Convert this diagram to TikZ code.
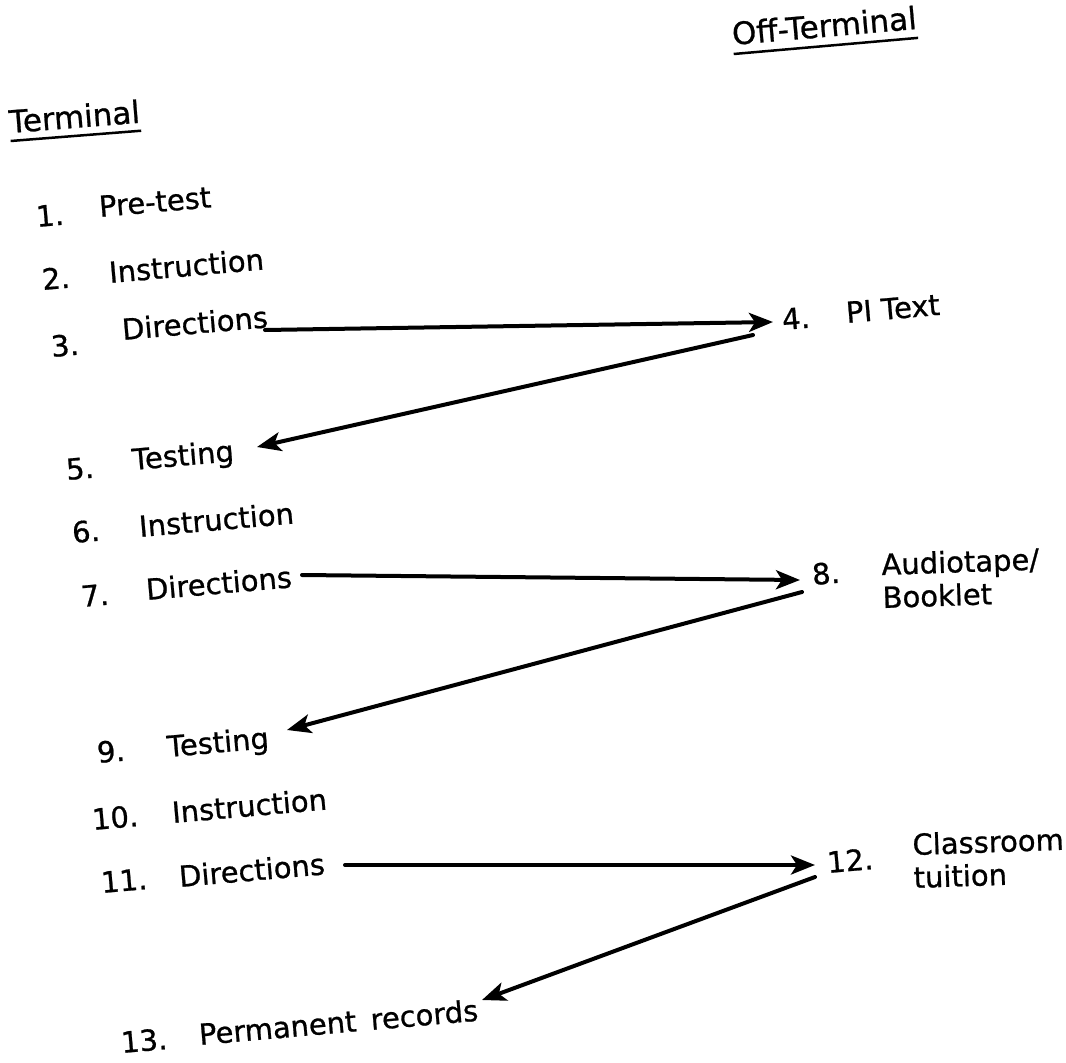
\documentclass[tikz,border=0pt]{standalone}
\usepackage{fontspec}
\setmainfont{DejaVu Sans}[FakeBold=0.8]
\usetikzlibrary{arrows.meta}
\begin{document}
\begin{tikzpicture}[x=1pt,y=-1pt,
  lbl/.style={anchor=base west, inner sep=0pt, outer sep=0pt, rotate=#1,
              font=\fontsize{29}{33}\selectfont},
  lbl/.default=5,
  two/.style={lbl=#1, align=left},
  two/.default=2,
  head/.style={lbl=#1, font=\fontsize{31}{36}\selectfont},
  head/.default=5,
  uline/.style={line width=2.5pt},
  conn/.style={line width=4pt, line cap=round,
               -{Stealth[length=24pt,width=19pt,inset=6pt]}}]
\useasboundingbox[fill=white] (0,0) rectangle (1066,1063);

% headings
\node[head=4.5] (term) at (10,133) {Terminal};
\node[head=5] (off) at (733,45) {Off-Terminal};
\draw[uline] ([xshift=0.6pt,yshift=-8pt]term.base west) -- ([xshift=0.6pt,yshift=-8pt]term.base east);
\draw[uline] ([xshift=0.7pt,yshift=-9pt]off.base west) -- ([xshift=0.7pt,yshift=-9pt]off.base east);

% terminal column
\node[lbl] (n1) at (37,227) {1.};
\node[lbl] (w1) at (100,217) {Pre-test};
\node[lbl] (n2) at (43,290) {2.};
\node[lbl] (w2) at (110,283) {Instruction};
\node[lbl] (n3) at (52,357) {3.};
\node[lbl] (w3) at (123,340) {Directions};
\node[lbl] (n5) at (67,480) {5.};
\node[lbl] (w5) at (133,470) {Testing};
\node[lbl] (n6) at (73,543) {6.};
\node[lbl] (w6) at (140,537) {Instruction};
\node[lbl] (n7) at (82,607) {7.};
\node[lbl] (w7) at (147,600) {Directions};
\node[lbl] (n9) at (98,763) {9.};
\node[lbl] (w9) at (168,757) {Testing};
\node[lbl] (n10) at (93,830) {10.};
\node[lbl] (w10) at (173,823) {Instruction};
\node[lbl] (n11) at (102,893) {11.};
\node[lbl] (w11) at (180,887) {Directions};
\node[lbl] (n13) at (122,1053) {13.};
\node[lbl] (w13) at (200,1045) {Permanent\hspace{0.5em}records};

% off-terminal column
\node[lbl] (n4) at (783,330) {4.};
\node[lbl] (w4) at (847,323) {PI Text};
\node[lbl] (n8) at (813,585) {8.};
\node[two] (w8) at (883,608) {Audiotape/\\Booklet};
\node[lbl] (n12) at (828,873) {12.};
\node[two] (w12) at (914,888) {Classroom\\tuition};

% connectors
\draw[conn] ([xshift=142pt,yshift=10pt]w3.base west) -- ([xshift=-10pt,yshift=8pt]n4.base west);
\draw[conn] ([xshift=-30pt,yshift=-5pt]n4.base west) -- ([xshift=124pt,yshift=23pt]w5.base west);
\draw[conn] ([xshift=155pt,yshift=25pt]w7.base west) -- ([xshift=-13pt,yshift=5pt]n8.base west);
\draw[conn] ([xshift=-11pt,yshift=-7pt]n8.base west) -- ([xshift=119pt,yshift=27pt]w9.base west);
\draw[conn] ([xshift=165pt,yshift=22pt]w11.base west) -- ([xshift=-13pt,yshift=8pt]n12.base west);
\draw[conn] ([xshift=-13pt,yshift=-4pt]n12.base west) -- ([xshift=282pt,yshift=45pt]w13.base west);
\end{tikzpicture}
\end{document}
